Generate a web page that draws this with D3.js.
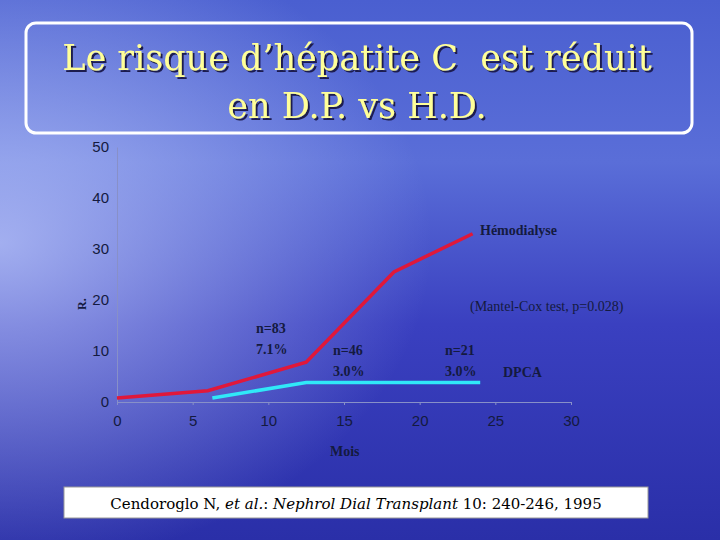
<!DOCTYPE html>
<html><head><meta charset="utf-8">
<script src="https://cdn.jsdelivr.net/npm/d3@7"></script>
<style>body{margin:0}svg{display:block}.sf{font-family:"DejaVu Serif",serif}.lf{font-family:"Liberation Serif","Times New Roman",serif}</style>
</head><body><svg id="c" width="720" height="540"></svg>
<script>
const hdMonths = [0, 6, 12.5, 18.3, 23.5];
const hdValues = [0.8, 2.2, 7.8, 25.5, 33];
const dpMonths = [6.3, 12.5, 24];
const dpValues = [0.8, 3.8, 3.8];
const xTicks = [0, 5, 10, 15, 20, 25, 30];
const yTicks = [0, 10, 20, 30, 40, 50];

const svg = d3.select("#c");
const defs = svg.append("defs");
const bg = defs.append("linearGradient").attr("id", "bg").attr("x1", 0).attr("y1", 0).attr("x2", 0).attr("y2", 1);
bg.append("stop").attr("offset", 0).attr("stop-color", "#4a5fd0");
bg.append("stop").attr("offset", 0.3).attr("stop-color", "#5a6ed8");
bg.append("stop").attr("offset", 0.6).attr("stop-color", "#3a40c0");
bg.append("stop").attr("offset", 1).attr("stop-color", "#2a2fa8");
const glow = defs.append("radialGradient").attr("id", "glow").attr("cx", 0).attr("cy", 0.45).attr("r", 0.6);
glow.append("stop").attr("offset", 0).attr("stop-color", "#c8d4ff").attr("stop-opacity", 0.7);
glow.append("stop").attr("offset", 1).attr("stop-color", "#c8d4ff").attr("stop-opacity", 0);
const sh = defs.append("filter").attr("id", "sh");
sh.append("feDropShadow").attr("dx", 2).attr("dy", 2).attr("stdDeviation", 0.5).attr("flood-color", "#1a1a50");
svg.append("rect").attr("width", 720).attr("height", 540).attr("fill", "url(#bg)");
svg.append("rect").attr("width", 720).attr("height", 540).attr("fill", "url(#glow)");

// title box
svg.append("rect").attr("x", 26).attr("y", 23).attr("width", 666).attr("height", 110).attr("rx", 10)
  .attr("fill", "none").attr("stroke", "#fff").attr("stroke-width", 3);
const title = svg.append("g").attr("class", "sf").attr("font-size", 35).attr("text-anchor", "middle")
  .attr("fill", "#ffff99").attr("filter", "url(#sh)");
[["Le risque d’hépatite C  est réduit", 70], ["en D.P. vs H.D.", 118]].forEach(([t, y]) =>
  title.append("text").attr("x", 357).attr("y", y).attr("xml:space", "preserve").text(t));

const x = d3.scaleLinear().domain([0, 30]).range([117, 571]);
const y = d3.scaleLinear().domain([0, 50]).range([402, 147]);
const ink = "#141a40";

const xa = svg.append("g").attr("transform", "translate(0,402)").call(d3.axisBottom(x).tickValues(xTicks).tickSize(3));
const ya = svg.append("g").attr("transform", "translate(117,0)").call(d3.axisLeft(y).tickValues(yTicks).tickSize(0).tickPadding(8));
[xa, ya].forEach(a => {
  a.selectAll("path,line").attr("stroke", "#8890c8");
  a.selectAll("text").attr("fill", ink).attr("font-family", "Liberation Sans Narrow, Liberation Sans").attr("font-size", 15);
});
xa.selectAll("text").attr("dy", "1.2em");

const line = d3.line();
svg.append("path").attr("d", line(hdMonths.map((m, i) => [x(m), y(hdValues[i])])))
  .attr("fill", "none").attr("stroke", "#e0183a").attr("stroke-width", 3.5);
svg.append("path").attr("d", line(dpMonths.map((m, i) => [x(m), y(dpValues[i])])))
  .attr("fill", "none").attr("stroke", "#30e8f8").attr("stroke-width", 3.5);

const lab = svg.append("g").attr("class", "lf").attr("font-weight", "bold").attr("font-size", 14).attr("fill", ink);
[["Hémodialyse", 480, 235], ["n=83", 256, 333], ["7.1%", 256, 354], ["n=46", 333, 355], ["3.0%", 333, 376],
 ["n=21", 445, 355], ["3.0%", 445, 376], ["DPCA", 503, 377], ["Mois", 330, 456]].forEach(([t, a, b]) =>
  lab.append("text").attr("x", a).attr("y", b).text(t));
svg.append("text").attr("class", "lf").attr("x", 470).attr("y", 311).attr("font-size", 14).attr("fill", ink)
  .text("(Mantel-Cox test, p=0.028)");
svg.append("text").attr("class", "lf").attr("transform", "translate(86,310) rotate(-90)")
  .attr("font-weight", "bold").attr("font-size", 12).attr("fill", ink).text("R.");

// citation box
svg.append("rect").attr("x", 64).attr("y", 487).attr("width", 584).attr("height", 31).attr("fill", "#fff").attr("stroke", "#999");
const cit = svg.append("text").attr("class", "sf").attr("x", 356).attr("y", 509).attr("text-anchor", "middle").attr("font-size", 15).attr("fill", "#000");
cit.append("tspan").text("Cendoroglo N, ");
cit.append("tspan").attr("font-style", "italic").text("et al.");
cit.append("tspan").text(": ");
cit.append("tspan").attr("font-style", "italic").text("Nephrol Dial Transplant");
cit.append("tspan").text(" 10: 240-246, 1995");
</script></body></html>
